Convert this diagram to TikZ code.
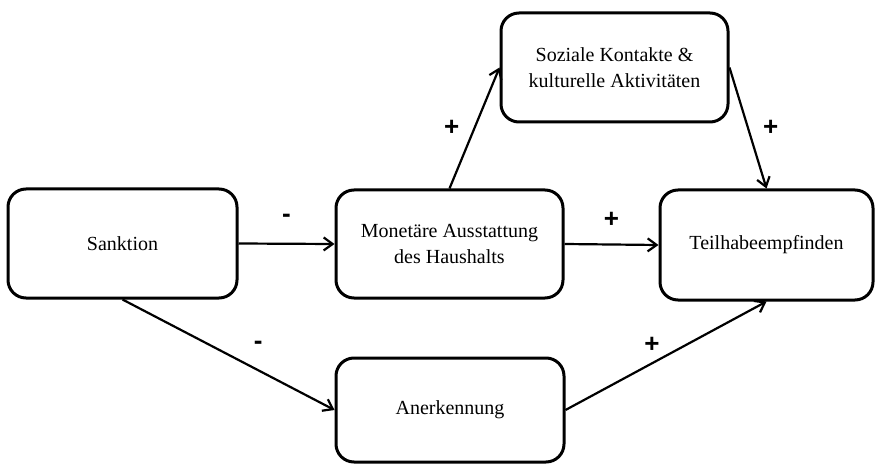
\documentclass[tikz,border=0pt]{standalone}
\usepackage{fontspec}
\setmainfont{Liberation Serif}
\newfontfamily\signfont{Liberation Sans}
\usetikzlibrary{arrows.meta}

\begin{document}
\begin{tikzpicture}[x=1pt, y=-1pt,
        box/.style={draw, line width=3pt, rounded corners=18pt, align=center, inner sep=0pt,
            font=\fontsize{20}{26}\selectfont},
        pfeil/.style={line width=2.2pt, -{Straight Barb[length=9pt, width=13pt, line width=2.2pt]}},
        zeichen/.style={font=\signfont\bfseries\fontsize{26}{26}\selectfont, inner sep=0pt}]
        \useasboundingbox (0,0) rectangle (880,465);

        \node[box, minimum width=229pt, minimum height=109pt] (sanktion) at (122.5,243.5) {Sanktion};
        \node[box, minimum width=227pt, minimum height=108pt] (monetaer) at (449.5,244) {Monetäre Ausstattung\\des Haushalts};
        \node[box, minimum width=227pt, minimum height=109pt] (soziale) at (614.5,67.5) {Soziale Kontakte \&\\kulturelle Aktivitäten};
        \node[box, minimum width=213pt, minimum height=110pt] (teilhabe) at (766.5,245) {Teilhabeempfinden};
        \node[box, minimum width=228pt, minimum height=104pt] (anerkennung) at (450,410) {Anerkennung};

        \draw[pfeil] (sanktion.east) -- (monetaer.west) node[zeichen, midway, above=20pt] (m1) {-};
        \draw[pfeil] (monetaer.east) -- (teilhabe.west) node[zeichen, midway, above=16pt] (p1) {+};
        \draw[pfeil] (monetaer.north) -- (soziale.west) node[zeichen, midway, left=14pt] (p2) {+};
        \draw[pfeil] (soziale.east) -- (teilhabe.north) node[zeichen, midway, right=14pt] (p3) {+};
        \draw[pfeil] (sanktion.south) -- (anerkennung.west) node[zeichen, pos=0.64, above=20pt] (m2) {-};
        \draw[pfeil] (anerkennung.east) -- (teilhabe.south) node[zeichen, pos=0.43, above=10pt] (p4) {+};
    \end{tikzpicture}
\end{document}
